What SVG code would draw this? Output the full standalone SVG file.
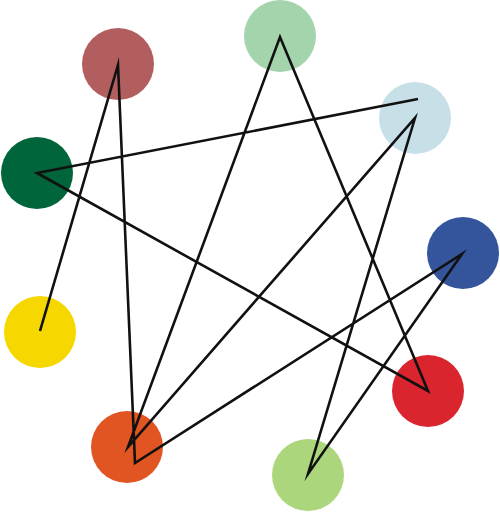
<svg xmlns="http://www.w3.org/2000/svg" width="500" height="512" viewBox="0 0 500 512">
<style>
.n{stroke:none}
.c{fill:none;stroke:#111;stroke-width:2.6;stroke-linejoin:miter;stroke-miterlimit:10}
</style>
<rect width="500" height="512" fill="#fff"/>
<g id="nodes">
<g id="n-brown"><circle class="n" cx="118" cy="64" r="36" fill="#b35e5e"/></g>
<g id="n-lightgreen-top"><circle class="n" cx="280" cy="36" r="36" fill="#a3d4ab"/></g>
<g id="n-lightblue"><circle class="n" cx="415" cy="118" r="36" fill="#c7e0e8"/></g>
<g id="n-darkgreen"><circle class="n" cx="37" cy="173" r="36" fill="#00653a"/></g>
<g id="n-blue"><circle class="n" cx="463" cy="253" r="36" fill="#34549c"/></g>
<g id="n-yellow"><circle class="n" cx="40" cy="332" r="36" fill="#f6d800"/></g>
<g id="n-red"><circle class="n" cx="428" cy="391" r="36" fill="#da252f"/></g>
<g id="n-orange"><circle class="n" cx="127" cy="447" r="36" fill="#e15522"/></g>
<g id="n-lightgreen-bottom"><circle class="n" cx="308" cy="475" r="36" fill="#acd67c"/></g>
</g>
<g id="connectors">
<polyline class="c" points="40,331 118,65 135,463 462,254 308,474 415,118 128,447 280,37 428,391 37,173 418,99"/>
</g>
</svg>
